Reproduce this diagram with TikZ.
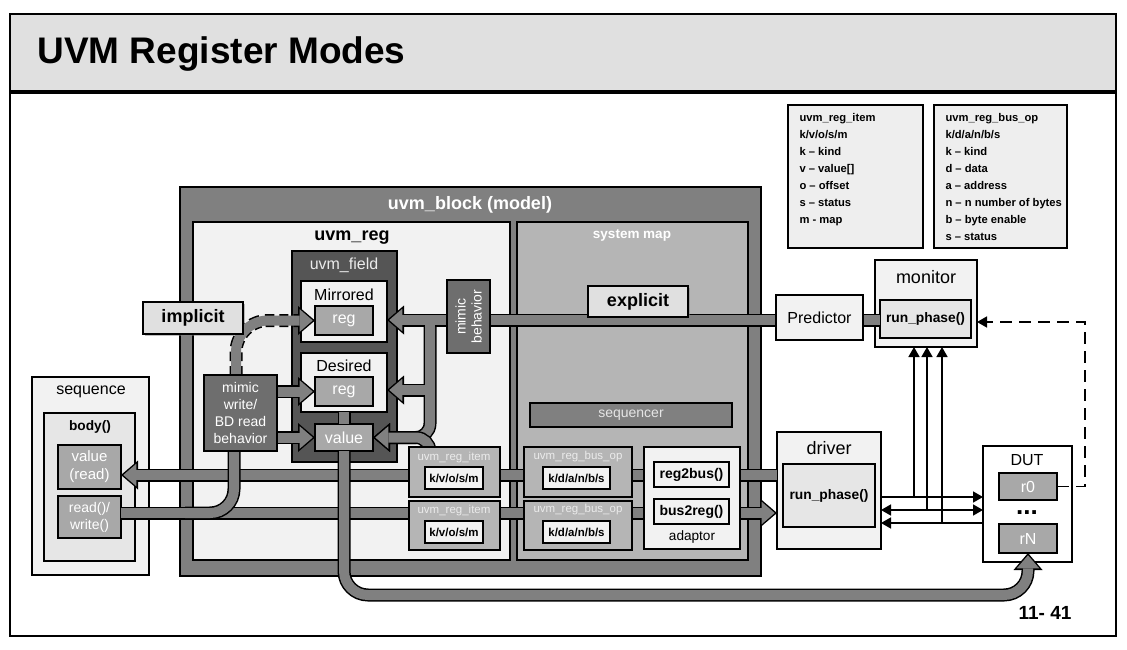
\documentclass[tikz,border=0pt]{standalone}
\usepackage{fontspec}
\setmainfont{Liberation Sans}
\usepackage{tikz}
\usetikzlibrary{arrows.meta, shadows}

\newcommand{\fsize}[2]{\fontsize{#1}{#2}\selectfont}

\definecolor{bandgray}{HTML}{E0E0E0}
\definecolor{blockgray}{HTML}{808080}
\definecolor{pipegray}{HTML}{808080}
\definecolor{lightfill}{HTML}{F2F2F2}
\definecolor{mapgray}{HTML}{B5B5B5}
\definecolor{fielddark}{HTML}{555555}
\definecolor{mimicgray}{HTML}{6E6E6E}
\definecolor{reggray}{HTML}{A8A8A8}
\definecolor{innerfill}{HTML}{E6E6E6}
\definecolor{legendfill}{HTML}{EEEEEE}

\tikzset{
    outl/.style={draw=black, line width=1.8pt},
    box/.style={outl, anchor=north west, inner sep=0pt, outer sep=0pt, align=center},
    wh/.style 2 args={minimum width=#1pt, minimum height=#2pt},
    regbox/.style={box, fill=reggray, text=white, font=\fsize{16}{19}},
    pipe/.style={draw=pipegray, line width=10pt,
        preaction={draw=black, line width=13pt}},
    pipearr/.style={draw=pipegray, line width=10pt, shorten >=2.3pt,
        -{Triangle[length=13pt, width=22.5pt, line width=0pt]},
        preaction={draw=black, line width=13pt, shorten >=0pt,
            -{Triangle[length=17pt, width=29pt, line width=0pt]}}},
    dpipearr/.style={draw=pipegray, line width=10pt, shorten >=2.3pt,
        -{Triangle[length=13pt, width=22.5pt, line width=0pt]},
        preaction={draw=black, line width=13pt, shorten >=0pt, dash pattern=on 9pt off 5pt,
            -{Triangle[length=17pt, width=29pt, line width=0pt]}}},
    wire/.style={draw=black, line width=1.6pt},
    dwire/.style={wire, dash pattern=on 12pt off 7pt},
    wtip/.style={-{Triangle[length=10pt, width=11pt]}},
}

\begin{document}
\begin{tikzpicture}[x=1pt, y=-1pt]
    \useasboundingbox (0,0) rectangle (1127,650);

    % Slide frame and title
    \fill[bandgray] (10,14) rectangle (1116,92);
    \draw[line width=1.2pt] (10,14) rectangle (1116,636);
    \draw[line width=4pt] (10,92) -- (1116,92);
    \node[anchor=west, font=\bfseries\fsize{37}{44}] (title) at (34,54) {UVM Register Modes};

    % Legend
    \node[box, fill=legendfill, line width=1.4pt, wh={135}{143}] (legItem) at (788,105) {};
    \node[box, fill=legendfill, line width=1.4pt, wh={133}{143}] (legBusop) at (934,105) {};
    \node[anchor=north west, align=left, font=\bfseries\fsize{11.2}{17}] (legItemTxt) at (796,110)
        {uvm\_reg\_item\\k/v/o/s/m\\k – kind\\v – value[]\\o – offset\\s – status\\m - map};
    \node[anchor=north west, align=left, font=\bfseries\fsize{11.2}{17}] (legBusopTxt) at (942,110)
        {uvm\_reg\_bus\_op\\k/d/a/n/b/s\\k – kind\\d – data\\a – address\\n – n number of bytes\\b – byte enable\\s –  status};

    % Register model block
    \node[box, fill=blockgray, wh={581}{389}] (block) at (180,187) {};
    \node[box, fill=lightfill, wh={317}{338}] (regarea) at (193,222) {};
    \node[box, fill=mapgray, wh={231}{338}] (sysmap) at (517,222) {};
    \node[text=white, font=\bfseries\fsize{18}{21}] (blockLbl) at (470,205) {uvm\_block (model)};
    \node[font=\bfseries\fsize{18}{21}] (regLbl) at (352,238) {uvm\_reg};
    \node[text=white, font=\bfseries\fsize{13.5}{16}] (mapLbl) at (632,235) {system map};

    % uvm_field
    \node[box, fill=fielddark, wh={105}{211}] (field) at (292,251) {};
    \node[text=white!92!black, font=\fsize{16}{19}] (fieldLbl) at (344,265) {uvm\_field};
    \node[box, fill=lightfill, wh={86}{61}] (mirBox) at (301,281) {};
    \node[font=\fsize{16}{19}] (mirLbl) at (344,295) {Mirrored};
    \node[regbox, wh={58}{29}] (mirReg) at (315,306) {reg};
    \node[box, fill=lightfill, wh={86}{59}] (desBox) at (301,353) {};
    \node[font=\fsize{16}{19}] (desLbl) at (344,366) {Desired};
    \node[regbox, wh={58}{29}] (desReg) at (315,377) {reg};
    \node[regbox, wh={58}{27}] (valBox) at (315,424) {value};
    \node[box, fill=blockgray, text=white!90!black, font=\fsize{14}{16}, wh={202}{24}] (sequencer) at (530,403) {sequencer};
    \coordinate (mimicTop) at (236,375);
    \coordinate (mimicFoot) at (234,451);

    % sequence
    \node[box, fill=lightfill, wh={117}{198}] (seq) at (32,377) {};
    \node[font=\fsize{16}{19}] (seqLbl) at (91,392) {sequence};
    \node[box, fill=innerfill, wh={91}{148}] (body) at (44,413) {};
    \node[font=\bfseries\fsize{13.7}{16}] (bodyLbl) at (90,427) {body()};
    \node[regbox, font=\fsize{15}{18}, wh={63}{44}] (valread) at (58,445) {value\\(read)};
    \node[regbox, font=\fsize{14}{17}, wh={63}{42}] (rw) at (58,496) {read()/\\write()};

    % monitor, driver, DUT
    \node[box, fill=lightfill, wh={102}{87}] (monitor) at (875,260) {};
    \node[font=\fsize{18}{21}] (monLbl) at (926,277) {monitor};
    \node[box, fill=innerfill, font=\bfseries\fsize{13.8}{16}, wh={91}{38}] (monRun) at (880,300) {run\_phase()};
    \node[box, fill=lightfill, wh={104}{117}] (driver) at (777,432) {};
    \node[font=\fsize{18}{21}] (drvLbl) at (829,448) {driver};
    \node[box, fill=innerfill, font=\bfseries\fsize{13.8}{16}, wh={92}{63}] (drvRun) at (783,464) {run\_phase()};
    \node[box, fill=white, wh={89}{116}] (dut) at (983,446) {};
    \node[font=\fsize{16}{19}] (dutLbl) at (1027,460) {DUT};
    \node[regbox, wh={58}{27}] (r0) at (999,473) {r0};
    \node[inner sep=0pt, font=\bfseries\fsize{26}{30}] (dots) at (1027,513) {...};
    \node[regbox, wh={58}{29}] (rN) at (999,524) {rN};

    % Pipes inside uvm_reg
    \draw[pipe] (desBox.south) -- (valBox.north);
    \draw[pipearr, rounded corners=14pt] (430,320) |- (valBox.east);
    \draw[pipearr] (430,390) -- (desBox.east |- 0,390);
    \draw[pipegray, line width=10pt] (430,381) -- (430,399);
    \draw[pipearr, rounded corners=14pt] (430,462) |- (valBox.east);

    % explicit path from monitor
    \draw[pipearr] (monRun.west |- 0,320) -- (mirBox.east |- 0,320);
    \draw[pipegray, line width=10pt] (430,320) -- (430,332);

    % Front door rows
    \draw[pipearr] (driver.west |- 0,475) -- (valread.east |- 0,475);
    \draw[pipearr] (rw.east |- 0,513) -- (driver.west |- 0,513);
    \draw[pipe, rounded corners=24pt] (185,513) -| (mimicFoot);

    % Back door
    \draw[pipearr, rounded corners=24pt] (valBox.south) -- (valBox.south |- 0,595) -| (rN.south);

    % mimic write / implicit
    \draw[pipearr] (277,391.5) -- (desReg.west);
    \draw[pipearr] (277,437.5) -- (valBox.west);
    \draw[dpipearr, rounded corners=32pt] (mimicTop) |- (mirReg.west);

    % Boxes on top of the pipes
    \node[box, fill=mimicgray, text=white, font=\fsize{14}{16.7}, wh={73}{76}] (mimicW) at (204,375) {mimic\\write/\\BD read\\behavior};
    \node[box, fill=mimicgray, wh={43}{73}] (mimicB) at (447,280) {};
    \node[rotate=90, text=white, align=center, font=\fsize{14}{16}] (mimicBTxt) at (mimicB.center) {mimic\\behavior};
    \node[box, fill=bandgray, line width=1.2pt, font=\bfseries\fsize{18}{21}, wh={100}{32},
        drop shadow={shadow xshift=2pt, shadow yshift=-2pt, fill=black!50}] (implicitB) at (143,302) {implicit};
    \node[box, fill=bandgray, line width=1.2pt, font=\bfseries\fsize{18}{21}, wh={100}{31},
        drop shadow={shadow xshift=2pt, shadow yshift=-2pt, fill=black!50}] (explicitB) at (588,286) {explicit};
    \node[box, fill=lightfill, font=\fsize{16}{19}, wh={87}{45}] (pred) at (776,295) {Predictor};

    % uvm_reg_item / uvm_reg_bus_op / adaptor
    \node[box, fill=mapgray, wh={91}{50}] (item1) at (409,447) {};
    \node[box, fill=mapgray, wh={91}{49}] (item2) at (409,501) {};
    \node[box, fill=mapgray, wh={108}{50}] (busop1) at (524,447) {};
    \node[box, fill=mapgray, wh={108}{49}] (busop2) at (524,501) {};
    \node[text=white!92!black, font=\fsize{11.5}{14}] (item1Lbl) at (454,458) {uvm\_reg\_item};
    \node[text=white!92!black, font=\fsize{11.5}{14}] (item2Lbl) at (454,511) {uvm\_reg\_item};
    \node[text=white!92!black, font=\fsize{11.5}{14}] (busop1Lbl) at (578,457) {uvm\_reg\_bus\_op};
    \node[text=white!92!black, font=\fsize{11.5}{14}] (busop2Lbl) at (578,510) {uvm\_reg\_bus\_op};
    \node[box, fill=lightfill, font=\bfseries\fsize{11.5}{14}, wh={58}{22}] (kvo1) at (425,467) {k/v/o/s/m};
    \node[box, fill=lightfill, font=\bfseries\fsize{11.5}{14}, wh={58}{22}] (kvo2) at (425,521) {k/v/o/s/m};
    \node[box, fill=lightfill, font=\bfseries\fsize{11.5}{14}, wh={67}{22}] (kda1) at (543,467) {k/d/a/n/b/s};
    \node[box, fill=lightfill, font=\bfseries\fsize{11.5}{14}, wh={67}{22}] (kda2) at (543,521) {k/d/a/n/b/s};
    \node[box, fill=lightfill, wh={96}{102}] (adaptor) at (644,447) {};
    \node[box, fill=lightfill, font=\bfseries\fsize{14}{17}, wh={75}{25}] (r2b) at (654,462) {reg2bus()};
    \node[box, fill=lightfill, font=\bfseries\fsize{14}{17}, wh={75}{25}] (b2r) at (654,499) {bus2reg()};
    \node[font=\fsize{13.6}{16}] (adaptorLbl) at (692,537) {adaptor};

    % Bus wires to DUT and monitor
    \coordinate (w1) at (914,497);
    \coordinate (w2) at (927,510);
    \coordinate (w3) at (942,523);
    \draw[wire, wtip] (driver.east |- w1) -- (dut.west |- w1);
    \draw[wire, {Triangle[length=10pt, width=11pt]}-{Triangle[length=10pt, width=11pt]}] (driver.east |- w2) -- (dut.west |- w2);
    \draw[wire, wtip] (dut.west |- w3) -- (driver.east |- w3);
    \draw[wire, wtip] (w1) -- (w1 |- monitor.south);
    \draw[wire, wtip] (w2) -- (w2 |- monitor.south);
    \draw[wire, wtip] (w3) -- (w3 |- monitor.south);
    \draw[dwire, wtip] (r0.east) -- ++(28,0) |- (monitor.east |- 0,322);

    % Page number
    \node[font=\bfseries\fsize{19}{22}] (pageNo) at (1045,613) {11- 41};
\end{tikzpicture}
\end{document}
